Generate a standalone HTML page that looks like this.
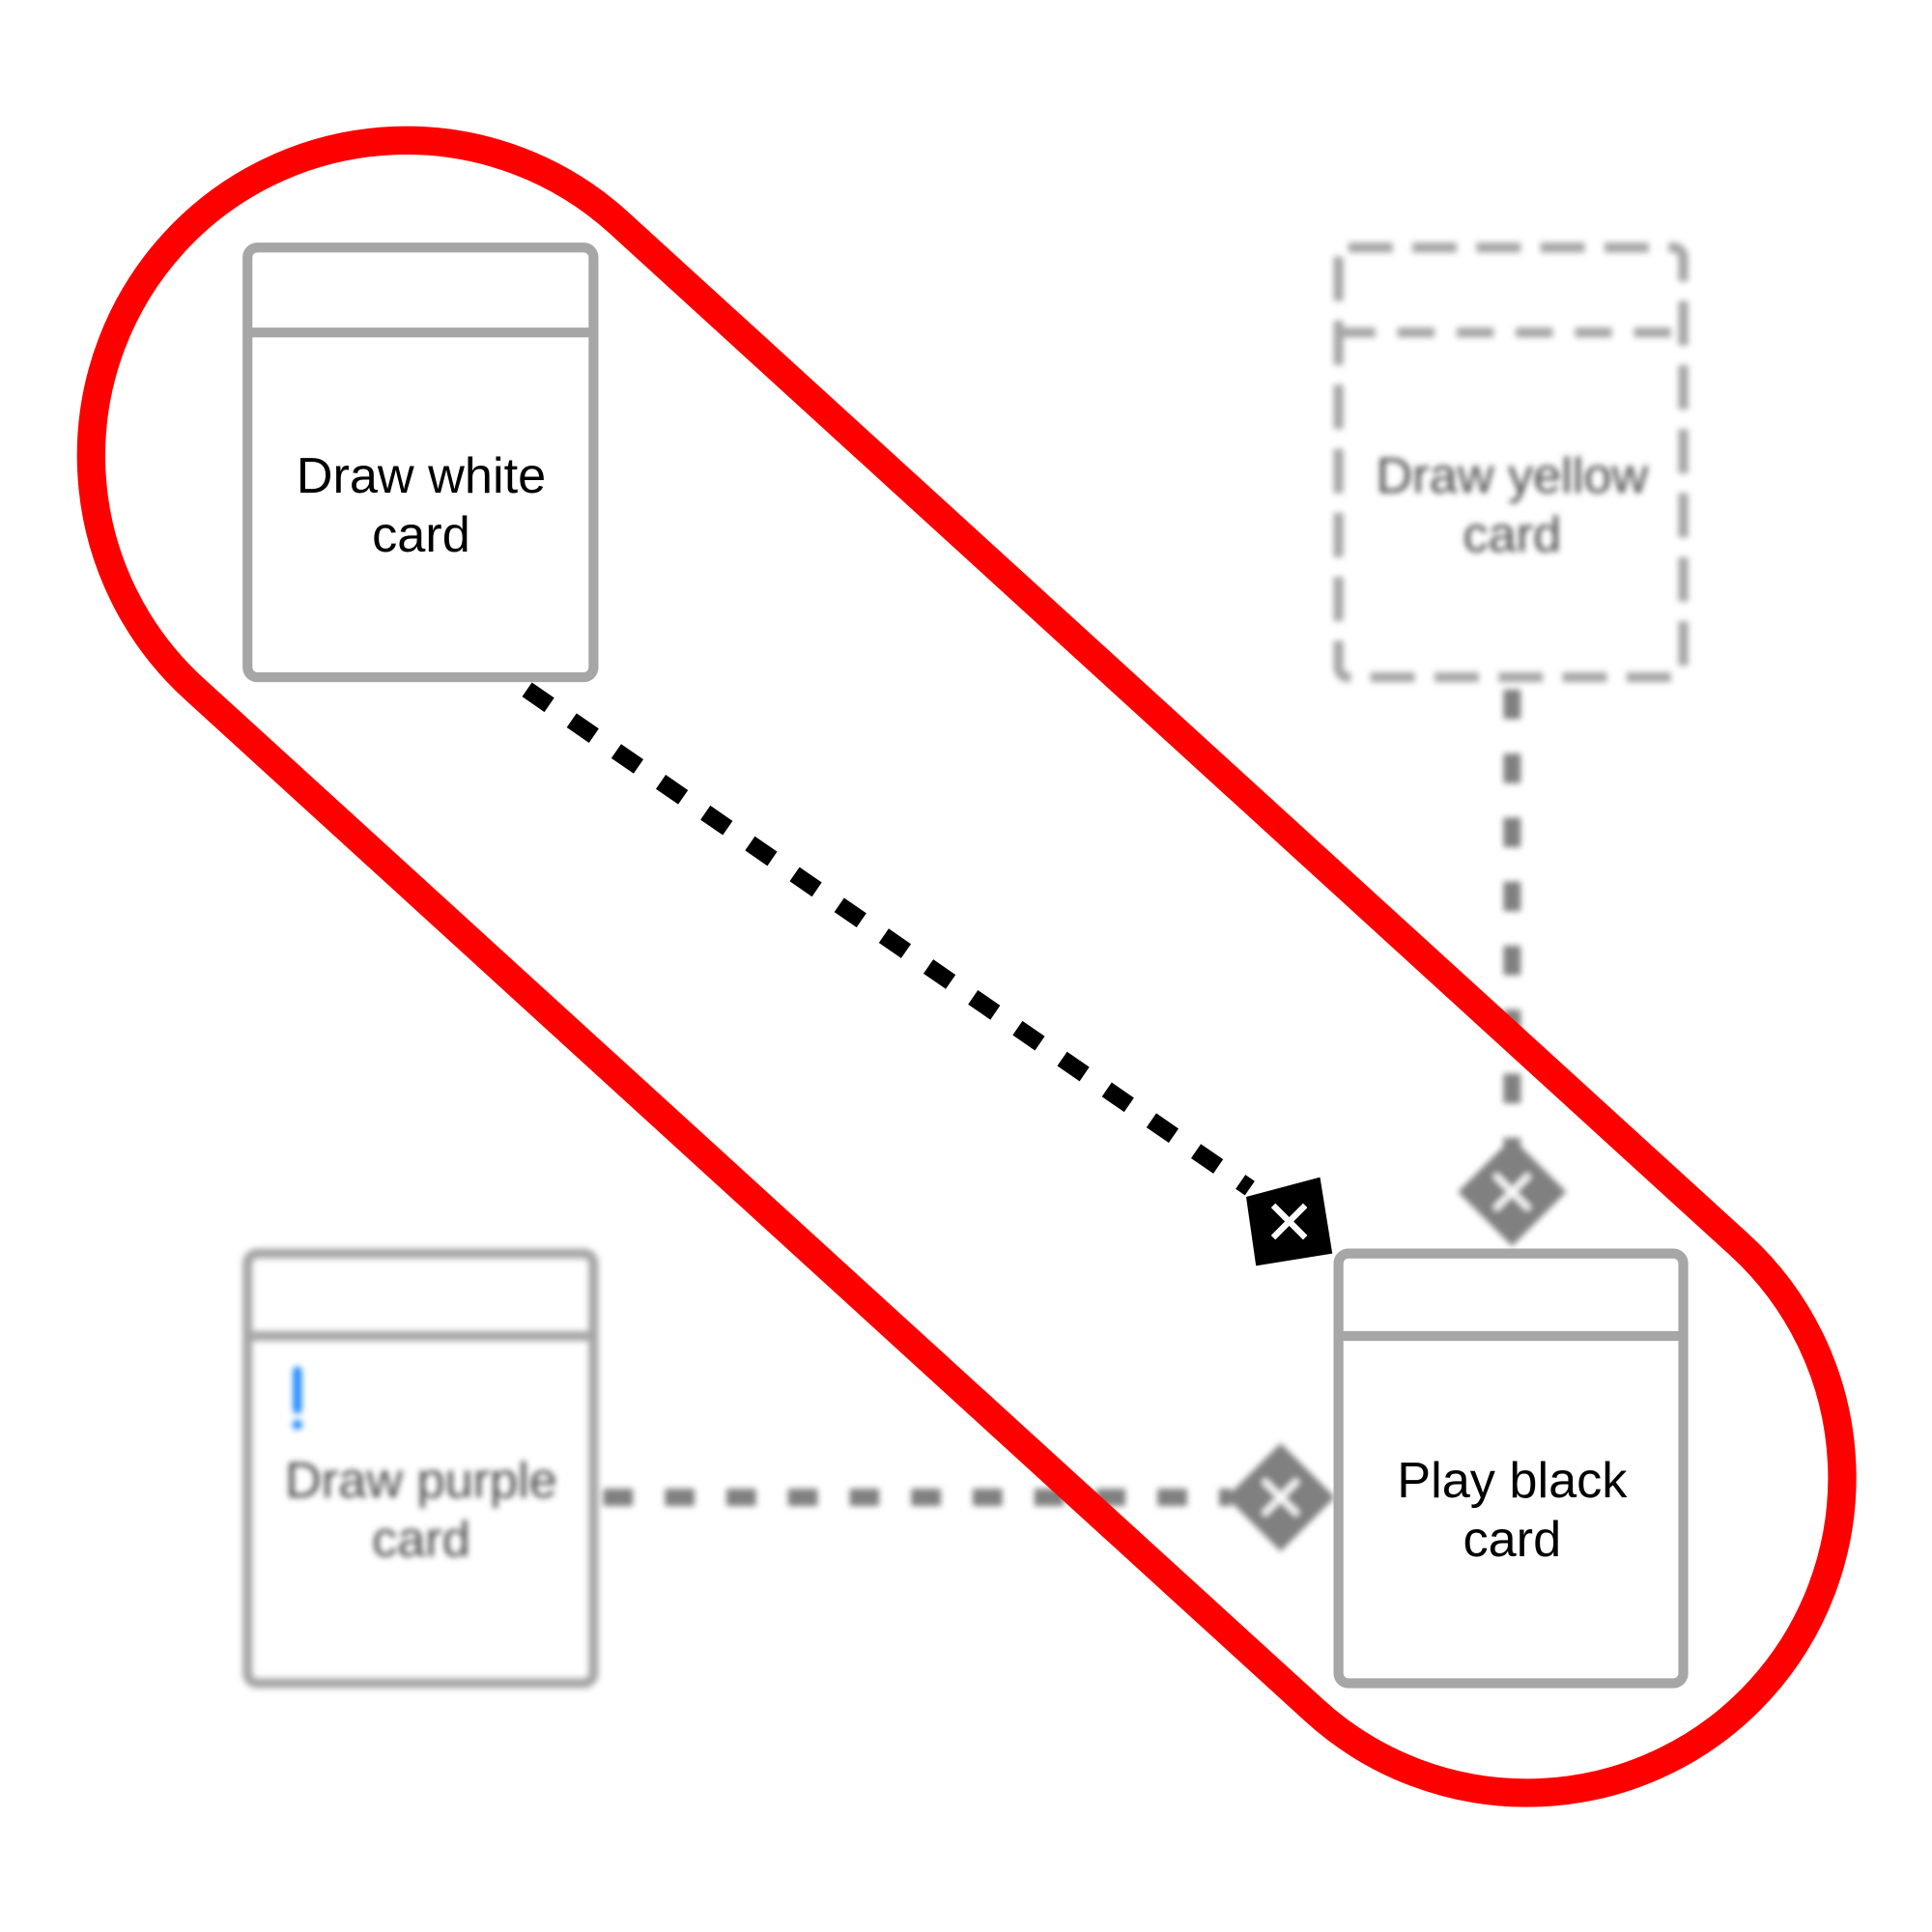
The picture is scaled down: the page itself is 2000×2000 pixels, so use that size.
<!DOCTYPE html>
<html><head><style>html,body{margin:0;padding:0;background:#fff}svg{display:block}</style></head>
<body>
<svg width="2000" height="2000" viewBox="0 0 1569 1569" xmlns="http://www.w3.org/2000/svg" font-family="'Liberation Sans', sans-serif">
<defs><filter id="b" x="-20%" y="-20%" width="140%" height="140%"><feGaussianBlur stdDeviation="2.5"/></filter></defs>
<rect width="1569" height="1569" fill="#fff"/>
<g filter="url(#b)">
  <rect x="201" y="1018" width="281" height="349" rx="8" fill="none" stroke="#a6a6a6" stroke-width="8"/>
  <line x1="201" y1="1085" x2="482" y2="1085" stroke="#a6a6a6" stroke-width="8"/>
  <rect x="238" y="1110" width="7" height="38" rx="3" fill="#1e88ff"/>
  <circle cx="241.5" cy="1157" r="4" fill="#1e88ff"/>
  <text x="342" y="1216" font-size="41" text-anchor="middle" fill="#4a4a4a">Draw purple</text>
  <text x="342" y="1264" font-size="41" text-anchor="middle" fill="#4a4a4a">card</text>
  <rect x="1087" y="201" width="280" height="349" rx="8" fill="none" stroke="#a6a6a6" stroke-width="8" stroke-dasharray="36 16"/>
  <line x1="1087" y1="270" x2="1367" y2="270" stroke="#a6a6a6" stroke-width="8" stroke-dasharray="30 18"/>
  <text x="1228" y="400" font-size="41" text-anchor="middle" fill="#4a4a4a">Draw yellow</text>
  <text x="1228" y="448" font-size="41" text-anchor="middle" fill="#4a4a4a">card</text>
  <line x1="1228" y1="560" x2="1228" y2="930" stroke="#808080" stroke-width="14" stroke-dasharray="24 28"/>
  <polygon points="1228,924 1272,968 1228,1012 1184,968" fill="#808080"/>
  <path d="M1214,954 L1242,982 M1242,954 L1214,982" stroke="#fff" stroke-width="5"/>
  <line x1="490" y1="1216" x2="1000" y2="1216" stroke="#808080" stroke-width="14" stroke-dasharray="24 26"/>
  <polygon points="1040,1172 1084,1216 1040,1260 996,1216" fill="#808080"/>
  <path d="M1026,1202 L1054,1230 M1054,1202 L1026,1230" stroke="#fff" stroke-width="5"/>
</g>
<rect x="201" y="201" width="281" height="349" rx="8" fill="none" stroke="#a6a6a6" stroke-width="8"/>
<line x1="201" y1="270" x2="482" y2="270" stroke="#a6a6a6" stroke-width="8"/>
<text x="342" y="400" font-size="41" text-anchor="middle" fill="#000">Draw white</text>
<text x="342" y="448" font-size="41" text-anchor="middle" fill="#000">card</text>
<rect x="1087" y="1018" width="280" height="349" rx="8" fill="none" stroke="#a6a6a6" stroke-width="8"/>
<line x1="1087" y1="1085" x2="1367" y2="1085" stroke="#a6a6a6" stroke-width="8"/>
<text x="1228" y="1216" font-size="41" text-anchor="middle" fill="#000">Play black</text>
<text x="1228" y="1264" font-size="41" text-anchor="middle" fill="#000">card</text>
<line x1="428" y1="560" x2="1015" y2="965" stroke="#000" stroke-width="14" stroke-dasharray="22 22"/>
<polygon points="1012,972 1072,956 1082,1018 1020,1028" fill="#000"/>
<path d="M1034,979 L1060,1005 M1060,979 L1034,1005" stroke="#fff" stroke-width="5"/>
<path d="M502.5,180.8 L1412.5,1010.8 A256 256 0 0 1 1067.5,1389.2 L157.5,559.2 A256 256 0 0 1 502.5,180.8 Z" fill="none" stroke="#ff0000" stroke-width="23"/>
</svg>
</body></html>
